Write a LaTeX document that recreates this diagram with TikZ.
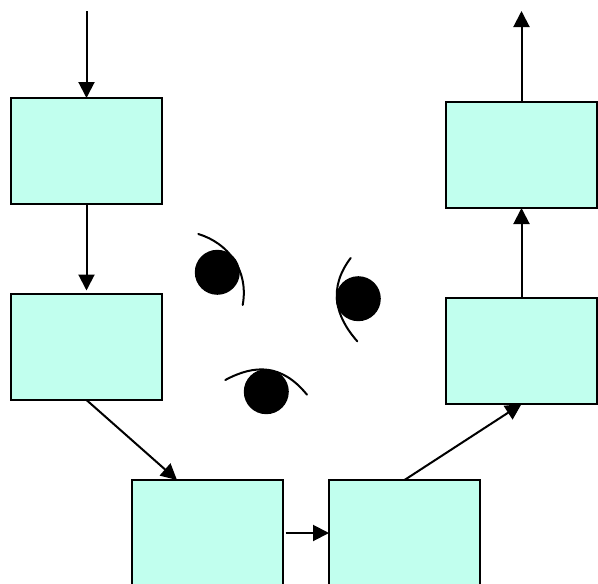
\documentclass[tikz,border=0pt]{standalone}
\usetikzlibrary{arrows.meta}
\definecolor{boxfill}{HTML}{C1FFEE}
\tikzset{
  flowbox/.style={draw=black,fill=boxfill,line width=1.8pt,minimum width=151pt,minimum height=106pt,inner sep=0pt,outer sep=0pt,anchor=north west},
  flow/.style={draw=black,line width=2pt,-{Triangle[length=16pt,width=16pt]}},
  ball/.style={circle,fill=black,draw=none,inner sep=0pt,outer sep=0pt,minimum size=45pt},
  lash/.style={draw=black,line width=2pt,line cap=round}
}
\begin{document}
\begin{tikzpicture}[x=1pt,y=-1pt]
\useasboundingbox (0,0) rectangle (598,584);
\clip (0,0) rectangle (598,584);
\node[flowbox] (A) at (11,98) {};
\node[flowbox] (B) at (11,294) {};
\node[flowbox] (C) at (132,480) {};
\node[flowbox] (D) at (329,480) {};
\node[flowbox] (E) at (446,298) {};
\node[flowbox] (F) at (446,102) {};
\coordinate (in) at (86.5,11);
\coordinate (out) at (521.5,11);
\draw[flow] (in) -- (A.north);
\draw[flow,shorten >=3.5pt] (A.south) -- (B.north);
\draw[flow] (B.south) -- ([xshift=45pt]C.north west);
\draw[flow,shorten <=2.5pt] (C.east) -- (D.west);
\draw[flow] (D.north) -- (E.south);
\draw[flow] (E.north) -- (F.south);
\draw[flow] (F.north) -- (out);
\node[ball] (e1) at (217.3,272.3) {};
\node[ball] (e2) at (358.3,298.7) {};
\node[ball] (e3) at (266.3,391.7) {};
\draw[lash] (198.3,234) .. controls (228,243) and (249,270) .. (242.7,305);
\draw[lash] (350.7,258) .. controls (328,288) and (335,316) .. (357.3,341.3);
\draw[lash] (225.3,380) .. controls (255,364) and (282,364) .. (307,394.7);
\end{tikzpicture}
\end{document}
